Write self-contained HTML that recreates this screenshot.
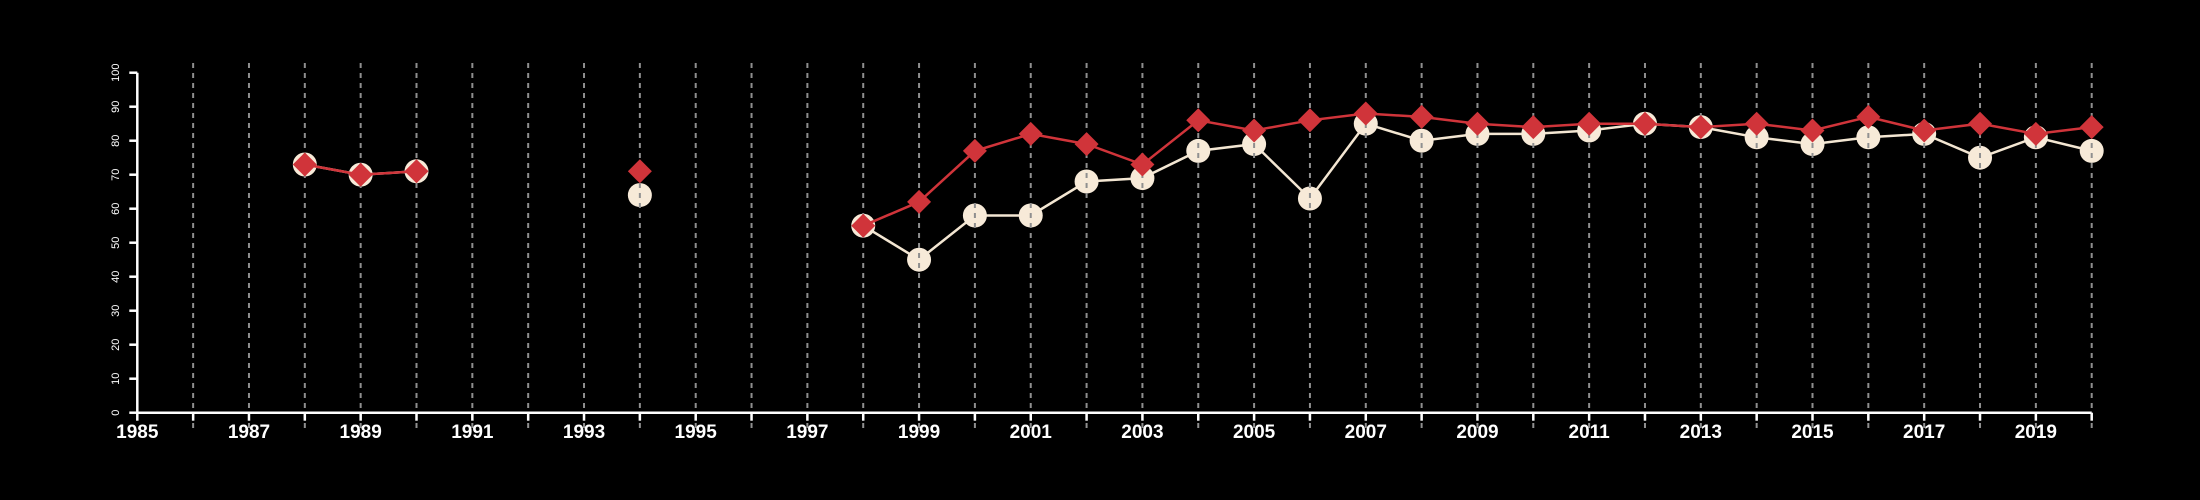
<!DOCTYPE html>
<html><head><meta charset="utf-8"><style>
html,body{margin:0;padding:0;background:#000;}
svg{display:block;}
text{font-family:"Liberation Sans",sans-serif;fill:#fff;}
</style></head><body>
<svg id="chart" width="2200" height="500" viewBox="0 0 2200 500" xmlns="http://www.w3.org/2000/svg">
<rect width="2200" height="500" fill="#000"/>
<g id="circles-layer"></g>
<g id="grid-layer"></g>
<g id="axes-layer"></g>
<g id="red-layer"></g>
</svg>
<script>
const years = [1988,1989,1990,1994,1998,1999,2000,2001,2002,2003,2004,2005,2006,2007,2008,2009,2010,2011,2012,2013,2014,2015,2016,2017,2018,2019,2020];
const redValues = [73,70,71,71,55,62,77,82,79,73,86,83,86,88,87,85,84,85,85,84,85,83,87,83,85,82,84];
const creamValues = [73,70,71,64,55,45,58,58,68,69,77,79,63,85,80,82,82,83,85,84,81,79,81,82,75,81,77];
const yTicks = [0,10,20,30,40,50,60,70,80,90,100];
const xLabelYears = [1985,1987,1989,1991,1993,1995,1997,1999,2001,2003,2005,2007,2009,2011,2013,2015,2017,2019];

const NS = "http://www.w3.org/2000/svg";
const X0 = 137.3, X1 = 2091.7, Y0 = 412.7, Y1 = 72.7;
const xMin = 1985, xMax = 2020;
function xs(v){ return X0 + (v - xMin) * (X1 - X0) / (xMax - xMin); }
function ys(v){ return Y0 - v * (Y0 - Y1) / 100; }
function mk(tag, attrs, parent){
  const e = document.createElementNS(NS, tag);
  for (const k in attrs) e.setAttribute(k, attrs[k]);
  parent.appendChild(e);
  return e;
}
const gC = document.getElementById('circles-layer');
const gG = document.getElementById('grid-layer');
const gA = document.getElementById('axes-layer');
const gR = document.getElementById('red-layer');

function segments(vals){
  const segs = []; let cur = [];
  for (let i = 0; i < years.length; i++){
    if (i > 0 && years[i] - years[i-1] > 1){ segs.push(cur); cur = []; }
    cur.push([xs(years[i]), ys(vals[i])]);
  }
  segs.push(cur);
  return segs;
}

segments(creamValues).forEach(s => {
  if (s.length < 2) return;
  const p = mk('polyline', {points: s.map(q => q.join(',')).join(' '), fill:'none', stroke:'#f3e6d2', 'stroke-width':2.5}, gC);
  
  
});
for (let i = 0; i < years.length; i++){
  const c = mk('circle', {cx: xs(years[i]), cy: ys(creamValues[i]), r: 12, fill:'#f7ead8'}, gC);
  
  
}

for (let y = 1986; y <= 2020; y++){
  const l = mk('line', {x1: xs(y), x2: xs(y), y1: 63, y2: 428, stroke:'#8f8f8f', 'stroke-width':2, 'stroke-dasharray':'5,5'}, gG);
  
  
}

const xa = mk('line', {x1: X0, x2: X1, y1: Y0, y2: Y0, stroke:'#fff', 'stroke-width':2.5}, gA);


const ya = mk('line', {x1: X0, x2: X0, y1: Y1, y2: Y0, stroke:'#fff', 'stroke-width':2.5}, gA);


for (let y = 1985; y <= 2020; y++){
  const t = mk('line', {x1: xs(y), x2: xs(y), y1: Y0, y2: Y0 + 8, stroke:'#fff', 'stroke-width':2.5}, gA);
  
  
}
xLabelYears.forEach(y => {
  const t = mk('text', {x: xs(y), y: 438, 'text-anchor':'middle', 'font-size':19, 'font-weight':'bold'}, gA);
  t.textContent = y;
  
  
});
yTicks.forEach(v => {
  const t = mk('line', {x1: X0 - 8, x2: X0, y1: ys(v), y2: ys(v), stroke:'#fff', 'stroke-width':2.5}, gA);
  
  
  const lx = 119, ly = ys(v);
  const tx = mk('text', {x: lx, y: ly, 'text-anchor':'middle', 'font-size':11, transform:'rotate(-90 ' + lx + ' ' + ly + ')'}, gA);
  tx.textContent = v;
  
  
});

segments(redValues).forEach(s => {
  if (s.length < 2) return;
  const p = mk('polyline', {points: s.map(q => q.join(',')).join(' '), fill:'none', stroke:'#d0343a', 'stroke-width':2.5}, gR);
  
  
});
for (let i = 0; i < years.length; i++){
  const cx = xs(years[i]), cy = ys(redValues[i]), h = 12;
  const pts = cx + ',' + (cy - h) + ' ' + (cx + h) + ',' + cy + ' ' + cx + ',' + (cy + h) + ' ' + (cx - h) + ',' + cy;
  const d = mk('polygon', {points: pts, fill:'#d0343a'}, gR);
  
  
}
</script>
</body></html>
